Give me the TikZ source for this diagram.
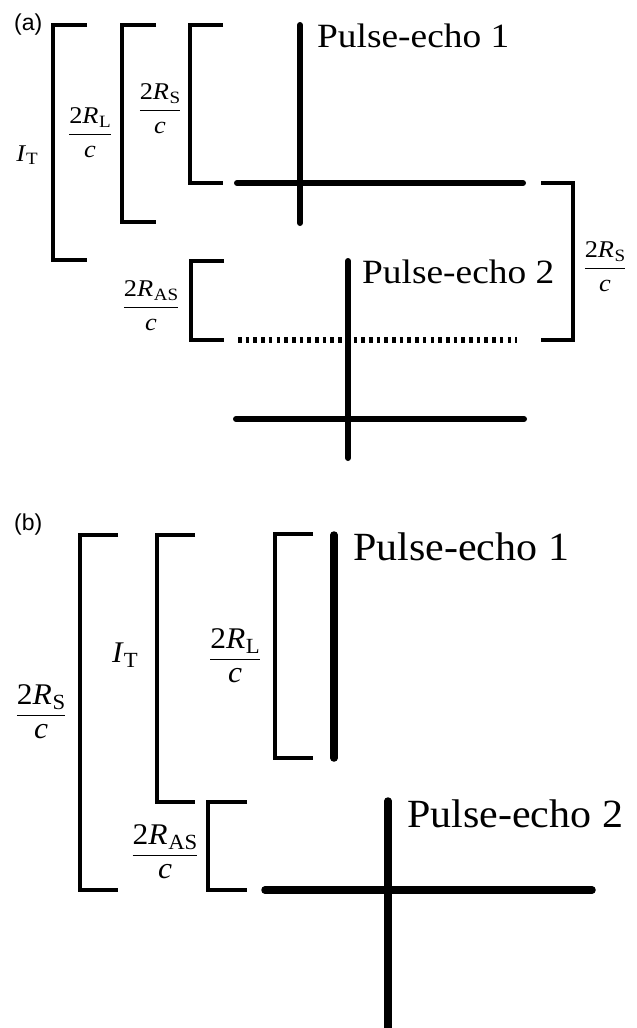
\documentclass[tikz,border=0pt]{standalone}
\usepackage{fontspec}
\usepackage{graphicx}
\setmainfont{Liberation Serif}
\newfontfamily\panelfont{Liberation Sans}
\newcommand{\subx}[1]{\raisebox{-0.32ex}{\scalebox{0.72}{#1}}}
\newcommand{\Rv}[1]{\textit{R}\kern0.02em\subx{#1}}
\newcommand{\myfr}[2]{$\displaystyle\frac{\mbox{#1}}{\mbox{#2}}$}
\newcommand{\wa}[1]{\scalebox{1.1}[1]{#1}}
\newcommand{\wb}[1]{\scalebox{1.05}[1]{#1}}
\begin{document}
\begin{tikzpicture}[x=1pt,y=-1pt,
  brk/.style={line width=4pt, line cap=butt, line join=miter},
  brkb/.style={line width=4.5pt, line cap=butt, line join=miter},
  pulsea/.style={line width=6pt, line cap=round},
  pulseb/.style={line width=7.5pt, line cap=round},
  dots/.style={line width=6pt, line cap=butt, dash pattern=on 3.6pt off 4.1pt},
  pea/.style={anchor=base west, inner sep=0pt, font=\fontsize{34}{40}\selectfont},
  peb/.style={anchor=base west, inner sep=0pt, font=\fontsize{40}{48}\selectfont},
  laba/.style={inner sep=0pt, font=\fontsize{24}{28}\selectfont},
  labb/.style={inner sep=0pt, font=\fontsize{30}{36}\selectfont},
  tag/.style={anchor=base west, inner sep=0pt, font=\panelfont\fontsize{23}{27}\selectfont}]
\useasboundingbox[fill=white] (0,0) rectangle (637,1028);

% ---------------- panel (a) ----------------
\node[tag] (taga) at (14,30) {(a)};
% brackets
\draw[brk] (87,25) -- (53,25) -- (53,260) -- (87,260);
\draw[brk] (156,25) -- (122,25) -- (122,222) -- (156,222);
\draw[brk] (223,25) -- (190,25) -- (190,183) -- (223,183);
\draw[brk] (224,261) -- (191,261) -- (191,340) -- (224,340);
\draw[brk] (541,183) -- (573,183) -- (573,340) -- (541,340);
% labels
\node[laba] (ita) at (27,155) {\wa{\textit{I}\subx{T}}};
\node[laba] (rla) at (90,133) {\wa{\myfr{2\Rv{L}}{\textit{c}}}};
\node[laba] (rsa) at (160,109) {\wa{\myfr{2\Rv{S}}{\textit{c}}}};
\node[laba] (rasa) at (151,306) {\wa{\myfr{2\Rv{AS}}{\textit{c}}}};
\node[laba] (rsa2) at (605,267) {\wa{\myfr{2\Rv{S}}{\textit{c}}}};
% pulse-echo 1
\draw[pulsea] (300,25) -- (300,223);
\draw[pulsea] (237,183) -- (523,183);
\node[pea] (pe1a) at (317,47) {\wa{Pulse-echo 1}};
% pulse-echo 2
\draw[dots] (238,340) -- (517,340);
\draw[pulsea] (348,261) -- (348,458);
\draw[pulsea] (236,419) -- (524,419);
\node[pea] (pe2a) at (362,283) {\wa{Pulse-echo 2}};

% ---------------- panel (b) ----------------
\node[tag] (tagb) at (14,530) {(b)};
\draw[brkb] (118,535) -- (80,535) -- (80,890) -- (118,890);
\draw[brkb] (195,535) -- (157,535) -- (157,802) -- (195,802);
\draw[brkb] (313,534) -- (275,534) -- (275,758) -- (313,758);
\draw[brkb] (247,802) -- (208,802) -- (208,890) -- (247,890);
\node[labb] (rsb) at (41,712) {\wb{\myfr{2\Rv{S}}{\textit{c}}}};
\node[labb] (itb) at (125,655) {\wb{\textit{I}\subx{T}}};
\node[labb] (rlb) at (235,656) {\wb{\myfr{2\Rv{L}}{\textit{c}}}};
\node[labb] (rasb) at (165,852) {\wb{\myfr{2\Rv{AS}}{\textit{c}}}};
% pulse-echo 1
\draw[pulseb] (334,535) -- (334,758);
\node[peb] (pe1b) at (353,560) {\wb{Pulse-echo 1}};
% pulse-echo 2
\draw[pulseb] (388,801) -- (388,1040);
\draw[pulseb] (265,890) -- (592,890);
\node[peb] (pe2b) at (407,827) {\wb{Pulse-echo 2}};
\end{tikzpicture}
\end{document}
